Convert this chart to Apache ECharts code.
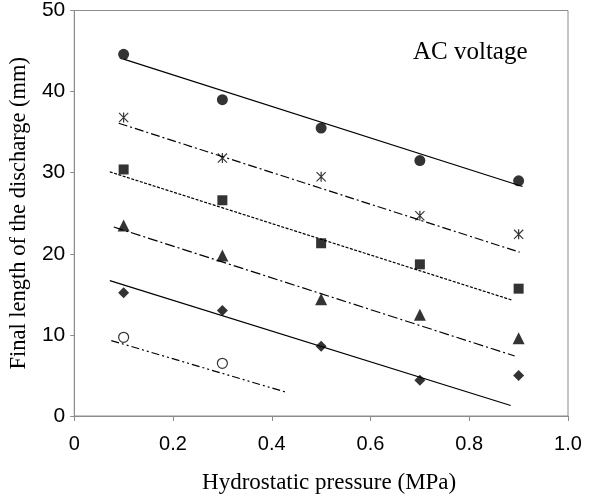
<!DOCTYPE html>
<html>
<head>
<meta charset="utf-8">
<script src="https://cdn.jsdelivr.net/npm/echarts@6/dist/echarts.min.js"></script>
<style>html,body{margin:0;padding:0;background:#fff}#c{width:603px;height:499px}</style>
</head>
<body>
<div id="c"></div>
<script>
// Data
var pressures = [0.1, 0.3, 0.5, 0.7, 0.9];
var circleY  = [44.6, 39.0, 35.5, 31.5, 29.0];
var starY    = [36.8, 31.8, 29.5, 24.7, 22.4];
var squareY  = [30.4, 26.6, 21.3, 18.7, 15.7];
var triangleY= [23.5, 19.8, 14.4, 12.5, 9.6];
var diamondY = [15.2, 13.0, 8.6, 4.4, 5.0];
var openX    = [0.1, 0.3];
var openY    = [9.7, 6.5];

// trend line end points (x, y)
var circleFitX   = [0.100, 0.908]; var circleFitY   = [44.0, 28.3];
var starFitX     = [0.090, 0.902]; var starFitY     = [36.1, 20.2];
var squareFitX   = [0.072, 0.886]; var squareFitY   = [30.1, 14.3];
var triangleFitX = [0.080, 0.892]; var triangleFitY = [23.3, 7.4];
var diamondFitX  = [0.072, 0.884]; var diamondFitY  = [16.7, 1.3];
var openFitX     = [0.075, 0.431]; var openFitY     = [9.3, 2.9];

var xTicks = ['0', '0.2', '0.4', '0.6', '0.8', '1.0'];
var yTicks = ['0', '10', '20', '30', '40', '50'];

function pts(xs, ys) { return xs.map(function (x, i) { return [x, ys[i]]; }); }

var asterisk = 'path://M4.4 0 L5.6 0 L5.6 10 L4.4 10 Z M0 0.8 L0.8 0 L10 9.2 L9.2 10 Z M9.2 0 L10 0.8 L0.8 10 L0 9.2 Z';

function scatter(name, data, symbol, size, style) {
  return {
    type: 'scatter', name: name, data: data, symbol: symbol, symbolSize: size,
    itemStyle: style || { color: '#000' }, z: 5, silent: true
  };
}
function fit(data, dash) {
  return {
    type: 'line', data: data, showSymbol: false, symbol: 'none', silent: true,
    lineStyle: { color: '#000', width: 1.2, type: dash }, z: 3
  };
}

var chart = echarts.init(document.getElementById('c'), null, { renderer: 'canvas' });
chart.setOption({
  animation: false,
  backgroundColor: '#fff',
  grid: { left: 74, top: 10, width: 494, height: 409, show: true, borderColor: '#8c8c8c', borderWidth: 1 },
  xAxis: {
    type: 'value', min: 0, max: 1, interval: 0.2,
    name: 'Hydrostatic pressure (MPa)', nameLocation: 'middle', nameGap: 55,
    nameTextStyle: { fontFamily: 'Liberation Serif', fontSize: 23, color: '#000', padding: [0, 0, 0, 16] },
    axisLine: { lineStyle: { color: '#8c8c8c' } },
    axisTick: { show: true, length: 5, lineStyle: { color: '#8c8c8c' } },
    splitLine: { show: false },
    axisLabel: {
      fontFamily: 'Liberation Sans', fontSize: 20, color: '#000', margin: 18,
      formatter: function (v) { return xTicks[Math.round(v / 0.2)]; }
    }
  },
  yAxis: {
    type: 'value', min: 0, max: 50, interval: 10,
    name: 'Final length of the discharge (mm)', nameLocation: 'middle', nameGap: 38, nameRotate: 90,
    nameTextStyle: { fontFamily: 'Liberation Serif', fontSize: 22.5, color: '#000' },
    axisLine: { show: true, lineStyle: { color: '#8c8c8c' } },
    axisTick: { show: true, length: 4, lineStyle: { color: '#8c8c8c' } },
    splitLine: { show: false },
    axisLabel: {
      fontFamily: 'Liberation Sans', fontSize: 21, color: '#000', margin: 9, padding: [0, 0, 11, 0],
      formatter: function (v) { return yTicks[Math.round(v / 10)]; }
    }
  },
  graphic: [{
    type: 'text', left: 413, top: 40,
    style: { text: 'AC voltage', fontFamily: 'Liberation Serif', fontSize: 25, fill: '#000' }
  }],
  series: [
    fit(pts(circleFitX, circleFitY), 'solid'),
    fit(pts(starFitX, starFitY), [9, 3, 2, 3]),
    fit(pts(squareFitX, squareFitY), [3, 1.5]),
    fit(pts(triangleFitX, triangleFitY), [10, 3, 2, 3]),
    fit(pts(diamondFitX, diamondFitY), 'solid'),
    fit(pts(openFitX, openFitY), [8, 3, 2, 3, 2, 3]),
    scatter('circle', pts(pressures, circleY), 'circle', 11),
    scatter('star', pts(pressures, starY), asterisk, 10),
    scatter('square', pts(pressures, squareY), 'rect', 10),
    scatter('triangle', pts(pressures, triangleY), 'triangle', 12),
    scatter('diamond', pts(pressures, diamondY), 'diamond', 11),
    scatter('open', pts(openX, openY), 'circle', 10, { color: '#fff', borderColor: '#000', borderWidth: 1.2 })
  ]
});
</script>
</body>
</html>
